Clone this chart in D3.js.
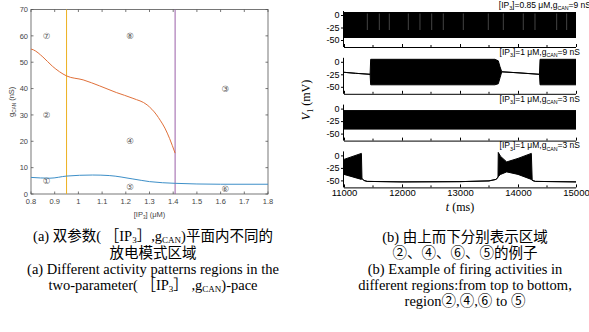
<!DOCTYPE html>
<html>
<head>
<meta charset="utf-8">
<script src="https://cdn.jsdelivr.net/npm/d3@7"></script>
<style>
  body { margin: 0; background: #fff; }
  svg { display: block; }
</style>
</head>
<body>
<svg id="chart" width="589" height="332"></svg>
<script>
// ---- panel (a): two-parameter plane ----
const ipTicks = [0.8, 0.9, 1.0, 1.1, 1.2, 1.3, 1.4, 1.5, 1.6, 1.7, 1.8];
const gTicks = [0, 10, 20, 30, 40, 50, 60, 70];

const redIP = [0.80, 0.81, 0.85, 0.89, 0.92, 0.95, 1.02, 1.09, 1.16, 1.23, 1.29, 1.33, 1.345, 1.365, 1.385, 1.408];
const redG  = [55, 54.7, 52, 48.5, 46.4, 44.8, 43.3, 41, 38.5, 36.3, 33.8, 30, 28, 25, 21, 15.5];

const blueIP = [0.80, 0.88, 0.95, 1.06, 1.13, 1.23, 1.30, 1.408, 1.5, 1.6, 1.8];
const blueG  = [6.3, 6.0, 6.8, 7.2, 7.0, 5.7, 4.7, 4.05, 3.8, 3.7, 3.7];

const yellowIP = 0.95;
const purpleIP = 1.408;

const regionLabels = ["①", "②", "③", "④", "⑤", "⑥", "⑦", "⑧"];
const regionIP = [0.866, 0.866, 1.62, 1.218, 1.218, 1.62, 0.866, 1.218];
const regionG  = [4.8, 30, 40, 20, 2.7, 2, 60, 60];

// ---- panel (b): membrane potential traces (envelopes: upper / lower) ----
const tTicks = [11000, 12000, 13000, 14000, 15000];
const tMinor = [11500, 12500, 13500, 14500];
const vTicks = [0, -25, -50];

const t1 = [11000, 15000];
const up1 = [5, 5];
const lo1 = [-45, -45];
// lighter streaks between spikes in the top trace
const gaps1 = [11402, 11609, 11781, 12109, 12310, 12512, 12712, 13057, 13488, 13747, 14091, 14293, 14667, 14839];

const t2  = [11000, 11200, 11450, 11460, 13600, 13660, 13690, 13720, 14000, 14370, 14380, 15000];
const up2 = [-21, -23, -25, 5, 5, 2, -10, -20, -22, -25, 5, 5];
const lo2 = [-21, -23, -25, -46, -46, -44, -32, -20, -22, -25, -46, -46];

const t3 = [11000, 15000];
const up3 = [-4, -4];
const lo3 = [-41, -41];

const t4  = [11000, 11300, 11310, 11340, 11400, 12000, 13000, 13500, 13620, 13655, 13660, 13700, 13805, 14000, 14230, 14245, 14300, 15000];
const up4 = [-8, 4, -46, -50, -52, -53, -52.5, -51, -48, -44, 6, -2, -13, -6, 4, -50, -52, -53];
const lo4 = [-38, -48, -46, -50, -52, -53, -52.5, -51, -48, -44, -42, -38, -33, -38, -48, -50, -52, -53];

const traceLabels = [
  [["[IP", ""], ["3", "sub"], ["]=0.85 μM,g", ""], ["CAN", "sub"], ["=9 nS", ""]],
  [["[IP", ""], ["3", "sub"], ["]=1 μM,g", ""], ["CAN", "sub"], ["=9 nS", ""]],
  [["[IP", ""], ["3", "sub"], ["]=1 μM,g", ""], ["CAN", "sub"], ["=3 nS", ""]],
  [["[IP", ""], ["3", "sub"], ["]=1 μM,g", ""], ["CAN", "sub"], ["=3 nS", ""]]
];

const captionA = [
  [["(a) 双参数( ［IP", ""], ["3", "sub"], ["］,g", ""], ["CAN", "sub"], [")平面内不同的", ""]],
  [["放电模式区域", ""]],
  [["(a) Different activity patterns regions in the", ""]],
  [["two-parameter( ［IP", ""], ["3", "sub"], ["］ ,g", ""], ["CAN", "sub"], [")-pace", ""]]
];
const captionB = [
  [["(b) 由上而下分别表示区域", ""]],
  [["②、④、⑥、⑤的例子", ""]],
  [["(b) Example of firing activities in", ""]],
  [["different regions:from top to bottom,", ""]],
  [["region②,④,⑥ to ⑤", ""]]
];

const svg = d3.select("#chart");
const sans = "'Liberation Sans', Arial, sans-serif";
const serif = "'Liberation Serif', 'Times New Roman', 'Noto Sans CJK SC', serif";

// text made of pieces, some of them subscripts
function addRich(parent, parts, x, y, size, family, anchor, color, subShift) {
  const shift = size * (subShift || 0.28);
  const t = parent.append("text")
    .attr("x", x).attr("y", y)
    .attr("font-size", size)
    .attr("font-family", family)
    .attr("text-anchor", anchor)
    .attr("fill", color || "#000");
  let prevSub = false;
  parts.forEach(([txt, kind]) => {
    const sp = t.append("tspan").text(txt);
    if (kind === "sub") {
      sp.attr("dy", shift).attr("font-size", size * 0.62);
      prevSub = true;
    } else {
      if (prevSub) sp.attr("dy", -shift);
      prevSub = false;
    }
  });
  return t;
}

// ================= panel (a) =================
const ax = { l: 31, r: 268, t: 9.5, b: 194 };
const x = d3.scaleLinear().domain([0.8, 1.8]).range([ax.l, ax.r]);
const y = d3.scaleLinear().domain([0, 70]).range([ax.b, ax.t]);
const gA = svg.append("g");
const axisColor = "#555";

gA.append("rect")
  .attr("x", ax.l).attr("y", ax.t)
  .attr("width", ax.r - ax.l).attr("height", ax.b - ax.t)
  .attr("fill", "none").attr("stroke", axisColor).attr("stroke-width", 0.8);

// inward ticks on all sides
ipTicks.forEach(v => {
  gA.append("line").attr("x1", x(v)).attr("x2", x(v)).attr("y1", ax.b).attr("y2", ax.b - 2.5)
    .attr("stroke", axisColor).attr("stroke-width", 0.8);
  gA.append("line").attr("x1", x(v)).attr("x2", x(v)).attr("y1", ax.t).attr("y2", ax.t + 2.5)
    .attr("stroke", axisColor).attr("stroke-width", 0.8);
  gA.append("text").attr("x", x(v)).attr("y", ax.b + 10)
    .attr("text-anchor", "middle").attr("font-family", sans).attr("font-size", 7.5)
    .attr("fill", "#444").text(d3.format("~g")(v));
});
gTicks.forEach(v => {
  gA.append("line").attr("x1", ax.l).attr("x2", ax.l + 2.5).attr("y1", y(v)).attr("y2", y(v))
    .attr("stroke", axisColor).attr("stroke-width", 0.8);
  gA.append("line").attr("x1", ax.r).attr("x2", ax.r - 2.5).attr("y1", y(v)).attr("y2", y(v))
    .attr("stroke", axisColor).attr("stroke-width", 0.8);
  gA.append("text").attr("x", ax.l - 3).attr("y", y(v) + 2.7)
    .attr("text-anchor", "end").attr("font-family", sans).attr("font-size", 7.5)
    .attr("fill", "#444").text(v);
});

addRich(gA, [["[IP", ""], ["3", "sub"], ["] (μM)", ""]], (ax.l + ax.r) / 2, 216.5, 7.5, sans, "middle", "#444");
addRich(gA, [["g", ""], ["CAN", "sub"], [" (nS)", ""]], 0, 0, 7.5, sans, "middle", "#444")
  .attr("x", null).attr("y", null)
  .attr("transform", `translate(14,${(ax.t + ax.b) / 2}) rotate(-90)`);

// vertical boundaries
gA.append("line").attr("x1", x(yellowIP)).attr("x2", x(yellowIP)).attr("y1", ax.t).attr("y2", ax.b)
  .attr("stroke", "#EDB120").attr("stroke-width", 1);
gA.append("line").attr("x1", x(purpleIP)).attr("x2", x(purpleIP)).attr("y1", ax.t).attr("y2", ax.b)
  .attr("stroke", "#9B5FA8").attr("stroke-width", 1);

const lineA = d3.line().x(d => x(d[0])).y(d => y(d[1])).curve(d3.curveMonotoneX);
gA.append("path").datum(d3.zip(redIP, redG)).attr("d", lineA)
  .attr("fill", "none").attr("stroke", "#E0703A").attr("stroke-width", 1);
gA.append("path").datum(d3.zip(blueIP, blueG)).attr("d", lineA)
  .attr("fill", "none").attr("stroke", "#3D8FC8").attr("stroke-width", 1);

regionLabels.forEach((lab, i) => {
  gA.append("text").attr("x", x(regionIP[i])).attr("y", y(regionG[i]) + 3)
    .attr("text-anchor", "middle").attr("font-family", "'DejaVu Sans', sans-serif")
    .attr("font-size", 8.5).attr("fill", "#555").text(lab);
});

// ================= panel (b) =================
const bx = d3.scaleLinear().domain([11000, 15000]).range([344, 576]);
const traces = [[t1, up1, lo1], [t2, up2, lo2], [t3, up3, lo3], [t4, up4, lo4]];
const gB = svg.append("g");

traces.forEach(([ts, up, lo], i) => {
  const zero = 15 + 46.8 * i;
  const by = d3.scaleLinear().domain([-64, 8]).range([zero + 32, zero - 4]);
  const g = gB.append("g");
  const pts = d3.zip(ts, up, lo);

  g.append("path").datum(pts)
    .attr("d", d3.area().x(d => bx(d[0])).y0(d => by(d[2])).y1(d => by(d[1])))
    .attr("fill", "#000");
  g.append("path").datum(pts)
    .attr("d", d3.line().x(d => bx(d[0])).y(d => by(d[1])))
    .attr("fill", "none").attr("stroke", "#000").attr("stroke-width", 1);
  g.append("path").datum(pts)
    .attr("d", d3.line().x(d => bx(d[0])).y(d => by(d[2])))
    .attr("fill", "none").attr("stroke", "#000").attr("stroke-width", 1);

  if (i === 0) {
    g.selectAll(".gap").data(gaps1).join("line")
      .attr("x1", d => bx(d)).attr("x2", d => bx(d))
      .attr("y1", by(3)).attr("y2", by(-30))
      .attr("stroke", "#fff").attr("stroke-opacity", 0.45).attr("stroke-width", 0.6);
  }

  // left axis
  g.append("g").attr("transform", `translate(${bx.range()[0]},0)`)
    .call(d3.axisLeft(by).tickValues(vTicks).tickSize(3).tickPadding(1.5).tickFormat(d => d < 0 ? "-" + (-d) : d))
    .call(a => a.select(".domain").attr("d", `M-0.5,${by(8)}V${by(-64)}`))
    .call(a => a.selectAll("text").attr("font-family", sans).attr("font-size", 9));

  // bottom axis, ticks pointing inward
  const last = i === traces.length - 1;
  const xa = g.append("g").attr("transform", `translate(0,${by(-64)})`)
    .call(d3.axisBottom(bx).tickValues(tTicks).tickSize(-3).tickPadding(1.5).tickFormat(last ? d3.format("d") : ""))
    .call(a => a.select(".domain").attr("d", `M${bx.range()[0]},0.5H${bx.range()[1]}`))
    .call(a => a.selectAll("text").attr("font-family", sans).attr("font-size", 9.5));
  tMinor.forEach(v => {
    xa.append("line").attr("x1", bx(v)).attr("x2", bx(v)).attr("y1", 0).attr("y2", -2)
      .attr("stroke", "#000");
  });

  addRich(g, traceLabels[i], i === 0 ? 591 : 580, zero - 7, 8.5, sans, "end");
});

// axis titles of panel (b)
const vLab = gB.append("text")
  .attr("transform", "translate(310,100) rotate(-90)")
  .attr("text-anchor", "middle").attr("font-family", serif).attr("font-size", 12);
vLab.append("tspan").attr("font-style", "italic").text("V");
vLab.append("tspan").attr("dy", 3).attr("font-size", 8).text("1");
vLab.append("tspan").attr("dy", -3).text(" (mV)");

const tLab = gB.append("text")
  .attr("x", 460).attr("y", 211)
  .attr("text-anchor", "middle").attr("font-family", serif).attr("font-size", 12);
tLab.append("tspan").attr("font-style", "italic").text("t");
tLab.append("tspan").text(" (ms)");

// ================= captions =================
const captionAY = [241, 258, 273.5, 289.5];
captionA.forEach((line, i) => {
  addRich(svg, line, 153, captionAY[i], 14.5, serif, "middle", "#000", 0.16);
});
captionB.forEach((line, i) => {
  addRich(svg, line, 465, 242 + 16 * i, 14.5, serif, "middle", "#000", 0.16);
});
</script>
</body>
</html>
